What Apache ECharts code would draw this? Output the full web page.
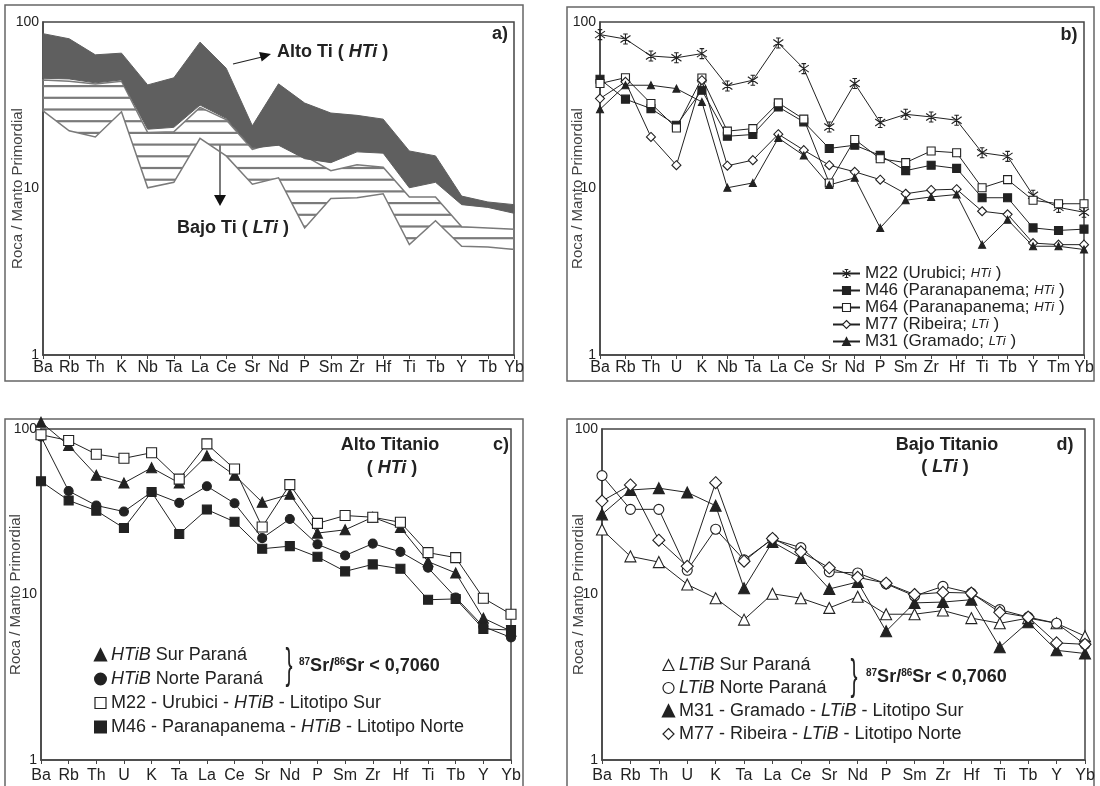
<!DOCTYPE html>
<html>
<head>
<meta charset="utf-8">
<title>Diagramas multielementales</title>
<script src="https://cdn.jsdelivr.net/npm/echarts@6/dist/echarts.min.js"></script>
<style>
  html, body { margin: 0; padding: 0; background: #fff; }
  #chart { width: 1100px; height: 786px; }
</style>
</head>
<body>
<div id="chart"></div>
<script>
const FONT = '"Liberation Sans", Arial, sans-serif';
const INK = '#222';
const AXIS = '#444';

// a) campos Alto Ti / Bajo Ti
const catsA = ['Ba', 'Rb', 'Th', 'K', 'Nb', 'Ta', 'La', 'Ce', 'Sr', 'Nd', 'P', 'Sm', 'Zr', 'Hf', 'Ti', 'Tb', 'Y', 'Tb', 'Yb'];
const htiTop = [85.1, 79.3, 63.5, 65.0, 41.9, 46.2, 75.7, 52.8, 23.8, 42.5, 32.6, 28.4, 27.5, 26.1, 16.8, 15.7, 9.0, 8.3, 8.0];
const htiBottom = [45.9, 45.5, 43.1, 44.9, 22.7, 23.3, 31.7, 26.4, 17.5, 18.2, 15.1, 14.3, 16.6, 16.3, 10.1, 10.9, 8.0, 7.7, 7.1];
const ltiTop = [44.9, 44.1, 42.5, 44.1, 21.7, 21.9, 30.7, 25.9, 17.2, 19.1, 15.7, 12.8, 13.9, 13.4, 8.9, 8.9, 5.9, 5.8, 5.7];
const ltiBottom = [29.3, 22.2, 20.4, 28.9, 10.1, 10.9, 20.0, 15.7, 10.6, 11.6, 5.8, 8.7, 8.8, 9.3, 4.6, 6.4, 4.5, 4.45, 4.3];

// b) muestras individuales
const catsB = ['Ba', 'Rb', 'Th', 'U', 'K', 'Nb', 'Ta', 'La', 'Ce', 'Sr', 'Nd', 'P', 'Sm', 'Zr', 'Hf', 'Ti', 'Tb', 'Y', 'Tm', 'Yb'];
const m22b = [84, 79, 62.5, 61, 64.6, 41.3, 44.7, 74.8, 52.5, 23.4, 42.7, 24.9, 27.9, 26.9, 25.7, 16.4, 15.6, 9.1, 7.7, 7.2];
const m46b = [45.3, 34.4, 30.2, 24, 38.9, 20.6, 21.1, 30.9, 25.1, 17.4, 18.2, 15.8, 12.8, 13.8, 13.2, 8.8, 8.8, 5.8, 5.6, 5.7];
const m64b = [42.7, 46.3, 32.4, 23.1, 46.1, 22.1, 22.9, 32.7, 26.1, 10.8, 19.7, 15.1, 14.3, 16.8, 16.4, 10.1, 11.3, 8.5, 8.1, 8.1];
const m77b = [34.7, 43.7, 20.4, 13.8, 44.7, 13.7, 14.8, 21.2, 17, 13.8, 12.6, 11.3, 9.3, 9.8, 9.9, 7.3, 7, 4.7, 4.6, 4.6];
const m31b = [29.9, 41.7, 41.7, 39.8, 33.1, 10.1, 10.8, 20.1, 15.8, 10.5, 11.6, 5.8, 8.5, 8.9, 9.2, 4.6, 6.5, 4.5, 4.5, 4.3];

// c) y d) promedios y litotipos
const catsCD = ['Ba', 'Rb', 'Th', 'U', 'K', 'Ta', 'La', 'Ce', 'Sr', 'Nd', 'P', 'Sm', 'Zr', 'Hf', 'Ti', 'Tb', 'Y', 'Yb'];
const htiSur = [110, 79.5, 52.6, 47.2, 58.3, 47.2, 69, 52.6, 36.1, 40.3, 23.5, 24.6, 29.3, 25.4, 15.8, 13.5, 7.2, 6.0];
const htiNorte = [90, 42.2, 34.5, 31.7, 41.6, 35.8, 45.1, 35.6, 21.9, 28.6, 20.1, 17.2, 20.3, 18.1, 14.5, 9.6, 6.4, 5.5];
const m22c = [92.3, 85.2, 70.4, 66.5, 71.9, 49.8, 81.3, 57.3, 25.6, 46.1, 26.9, 30, 29.3, 27.3, 17.9, 16.7, 9.5, 7.6];
const m46c = [48.3, 37, 32.1, 25.2, 41.6, 23.2, 32.6, 27.5, 18.9, 19.6, 16.9, 13.8, 15.2, 14.3, 9.3, 9.4, 6.2, 6.1];

const ltiSur = [24.7, 17, 15.7, 11.5, 9.5, 7.05, 10.1, 9.5, 8.3, 9.7, 7.6, 7.6, 8.0, 7.2, 6.7, 7.2, 6.7, 5.6];
const ltiNorte = [52.3, 32.7, 32.7, 14, 24.8, 16.2, 21.6, 19.2, 13.7, 13.5, 11.6, 9.8, 11.2, 10.2, 8.1, 7.3, 6.7, 5.0];
const m31d = [30.5, 42.8, 43.9, 41.4, 34.4, 10.9, 20.8, 16.6, 10.8, 11.9, 6.0, 8.9, 9.0, 9.3, 4.8, 6.8, 4.6, 4.4];
const m77d = [36.7, 45.9, 21.3, 14.8, 47.4, 15.9, 21.8, 18.1, 14.5, 12.7, 11.7, 10, 10.3, 10.2, 7.8, 7.3, 5.1, 5.0];

// trama horizontal para el campo LTi
const hatch = document.createElement('canvas');
hatch.width = 8;
hatch.height = 117;
const hctx = hatch.getContext('2d');
hctx.fillStyle = '#7a7a7a';
for (let k = 0; k < 10; k++) {
  hctx.fillRect(0, 3.1 + k * 11.7, 8, 2.2);
}

const STAR = 'path://M5,0L5,10M0.6,1.5L9.4,8.5M0.6,8.5L9.4,1.5M3,0L7,0M3,10L7,10';

function italics(name) {
  return name.replace(/(HTiB|LTiB|HTi|LTi)/g, '{i|$1}');
}

function xAxis(gridIndex, cats, margin) {
  return {
    type: 'category',
    gridIndex: gridIndex,
    data: cats,
    boundaryGap: false,
    axisLine: { lineStyle: { color: AXIS, width: 1.5 } },
    axisTick: { show: true, length: 4, lineStyle: { color: AXIS } },
    axisLabel: { interval: 0, color: INK, fontSize: 16, fontFamily: FONT, margin: margin },
    splitLine: { show: false },
  };
}

function yAxis(gridIndex, nameGap) {
  return {
    type: 'log',
    logBase: 10,
    min: 1,
    max: 100,
    gridIndex: gridIndex,
    name: 'Roca / Manto Primordial',
    nameLocation: 'middle',
    nameRotate: 90,
    nameGap: nameGap,
    nameMoveOverlap: false,
    nameTextStyle: { color: '#444', fontSize: 15, fontFamily: FONT },
    axisLine: { show: true, lineStyle: { color: AXIS, width: 1.5 } },
    axisTick: { show: false },
    axisLabel: { color: INK, fontSize: 14, fontFamily: FONT, margin: 4 },
    splitLine: { show: false },
  };
}

function grid(left, top, width, height) {
  return {
    left: left, top: top, width: width, height: height,
    show: true, borderColor: AXIS, borderWidth: 1.5,
    outerBoundsMode: 'none',
  };
}

// polígono entre dos curvas, con las escalas del eje
function band(name, lo, hi, style) {
  return {
    type: 'custom',
    name: name,
    xAxisIndex: 0,
    yAxisIndex: 0,
    silent: true,
    data: hi.map((v, i) => [i, lo[i], v]),
    encode: { x: 0, y: [1, 2] },
    renderItem: function (params, api) {
      if (params.dataIndex !== 0) return null;
      const pts = [];
      for (let i = 0; i < hi.length; i++) pts.push(api.coord([i, hi[i]]));
      for (let i = lo.length - 1; i >= 0; i--) pts.push(api.coord([i, lo[i]]));
      return { type: 'polygon', shape: { points: pts }, style: style };
    },
  };
}

function line(name, idx, data, symbol, size, filled) {
  return {
    name: name,
    type: 'line',
    xAxisIndex: idx,
    yAxisIndex: idx,
    data: data,
    symbol: symbol,
    symbolSize: size,
    clip: false,
    lineStyle: { color: INK, width: 1 },
    itemStyle: {
      color: filled ? INK : '#fff',
      borderColor: INK,
      borderWidth: 1.1,
    },
  };
}

function legendText(size, italicSize, lineHeight) {
  return {
    color: INK,
    fontSize: size,
    fontFamily: FONT,
    lineHeight: lineHeight,
    rich: {
      i: { fontStyle: 'italic', fontSize: italicSize, fontFamily: FONT, color: INK, lineHeight: lineHeight },
    },
  };
}

const chart = echarts.init(document.getElementById('chart'));

const option = {
  animation: false,
  backgroundColor: '#fff',
  grid: [
    grid(43, 22, 471, 333),
    grid(600, 22, 484, 333),
    grid(41, 429, 470, 331),
    grid(602, 429, 483, 331),
  ],
  xAxis: [xAxis(0, catsA, 5), xAxis(1, catsB, 5), xAxis(2, catsCD, 8), xAxis(3, catsCD, 8)],
  yAxis: [yAxis(0, 18), yAxis(1, 15), yAxis(2, 18), yAxis(3, 16)],
  legend: [
    {
      orient: 'vertical', left: 832, top: 265, padding: 0,
      itemWidth: 27, itemHeight: 10, itemGap: 0,
      selectedMode: false,
      itemStyle: { borderWidth: 1.1 },
      textStyle: legendText(17, 13, 17),
      formatter: italics,
      data: ['M22 (Urubici; HTi )', 'M46 (Paranapanema; HTi )', 'M64 (Paranapanema; HTi )', 'M77 (Ribeira; LTi )', 'M31 (Gramado; LTi )'],
    },
    {
      orient: 'vertical', left: 94, top: 645, padding: 0,
      itemWidth: 11, itemHeight: 11, itemGap: 4,
      selectedMode: false,
      textStyle: legendText(18, 18, 20),
      formatter: italics,
      data: [
        { name: 'HTiB Sur Paraná', icon: 'triangle', itemStyle: { color: INK, borderColor: INK } },
        { name: 'HTiB Norte Paraná', icon: 'circle', itemStyle: { color: INK, borderColor: INK } },
        { name: 'M22 - Urubici - HTiB - Litotipo Sur', icon: 'rect', itemStyle: { color: '#fff', borderColor: INK, borderWidth: 1.2 } },
        { name: 'M46 - Paranapanema - HTiB - Litotipo Norte', icon: 'rect', itemStyle: { color: INK, borderColor: INK } },
      ],
    },
    {
      orient: 'vertical', left: 662, top: 655, padding: 0,
      itemWidth: 11, itemHeight: 11, itemGap: 3,
      selectedMode: false,
      textStyle: legendText(18, 18, 20),
      formatter: italics,
      data: [
        { name: 'LTiB Sur Paraná', icon: 'triangle', itemStyle: { color: '#fff', borderColor: INK, borderWidth: 1.2 } },
        { name: 'LTiB Norte Paraná', icon: 'circle', itemStyle: { color: '#fff', borderColor: INK, borderWidth: 1.2 } },
        { name: 'M31 - Gramado - LTiB - Litotipo Sur', icon: 'triangle', itemStyle: { color: INK, borderColor: INK } },
        { name: 'M77 - Ribeira - LTiB - Litotipo Norte', icon: 'diamond', itemStyle: { color: '#fff', borderColor: INK, borderWidth: 1.2 } },
      ],
    },
  ],
  series: [
    // a)
    band('Bajo Ti', ltiBottom, ltiTop, { fill: { image: hatch, repeat: 'repeat' }, stroke: '#7a7a7a', lineWidth: 1.5 }),
    band('Alto Ti', htiBottom, htiTop, { fill: '#5f5f5f', stroke: '#5f5f5f', lineWidth: 1 }),
    // b)
    line('M22 (Urubici; HTi )', 1, m22b, STAR, 10, false),
    line('M46 (Paranapanema; HTi )', 1, m46b, 'rect', 8, true),
    line('M64 (Paranapanema; HTi )', 1, m64b, 'rect', 8, false),
    line('M77 (Ribeira; LTi )', 1, m77b, 'diamond', 9, false),
    line('M31 (Gramado; LTi )', 1, m31b, 'triangle', 7, true),
    // c)
    line('HTiB Sur Paraná', 2, htiSur, 'triangle', 10, true),
    line('HTiB Norte Paraná', 2, htiNorte, 'circle', 9, true),
    line('M22 - Urubici - HTiB - Litotipo Sur', 2, m22c, 'rect', 10, false),
    line('M46 - Paranapanema - HTiB - Litotipo Norte', 2, m46c, 'rect', 9, true),
    // d)
    line('LTiB Sur Paraná', 3, ltiSur, 'triangle', 11, false),
    line('LTiB Norte Paraná', 3, ltiNorte, 'circle', 10, false),
    line('M31 - Gramado - LTiB - Litotipo Sur', 3, m31d, 'triangle', 11, true),
    line('M77 - Ribeira - LTiB - Litotipo Norte', 3, m77d, 'diamond', 12, false),
  ],
  graphic: [
    // marcos exteriores
    { type: 'rect', shape: { x: 5, y: 5, width: 518, height: 376 }, style: { fill: 'none', stroke: '#666', lineWidth: 1.5 } },
    { type: 'rect', shape: { x: 567, y: 7, width: 527, height: 374 }, style: { fill: 'none', stroke: '#666', lineWidth: 1.5 } },
    { type: 'rect', shape: { x: 5, y: 419, width: 518, height: 380 }, style: { fill: 'none', stroke: '#666', lineWidth: 1.5 } },
    { type: 'rect', shape: { x: 567, y: 419, width: 527, height: 380 }, style: { fill: 'none', stroke: '#666', lineWidth: 1.5 } },

    // a) rótulos y flechas
    {
      type: 'text', x: 277, y: 52,
      style: {
        text: 'Alto Ti ( {i|HTi} )', fill: INK, fontSize: 18, fontWeight: 'bold', fontFamily: FONT, verticalAlign: 'middle',
        rich: { i: { fontStyle: 'italic', fontWeight: 'bold', fontSize: 18, fontFamily: FONT, fill: INK } },
      },
    },
    { type: 'line', shape: { x1: 233, y1: 64, x2: 262, y2: 57 }, style: { stroke: INK, lineWidth: 1.2 } },
    { type: 'polygon', shape: { points: [[271, 54], [261.7, 61.6], [259.1, 52]] }, style: { fill: '#111' } },
    {
      type: 'text', x: 177, y: 228,
      style: {
        text: 'Bajo Ti ( {i|LTi} )', fill: INK, fontSize: 18, fontWeight: 'bold', fontFamily: FONT, verticalAlign: 'middle',
        rich: { i: { fontStyle: 'italic', fontWeight: 'bold', fontSize: 18, fontFamily: FONT, fill: INK } },
      },
    },
    { type: 'line', shape: { x1: 220, y1: 145, x2: 220, y2: 196 }, style: { stroke: INK, lineWidth: 1.2 } },
    { type: 'polygon', shape: { points: [[214, 195], [226, 195], [220, 206]] }, style: { fill: '#111' } },
    { type: 'text', x: 500, y: 34, style: { text: 'a)', fill: INK, fontSize: 18, fontWeight: 'bold', fontFamily: FONT, align: 'center', verticalAlign: 'middle' } },

    // b)
    { type: 'text', x: 1069, y: 35, style: { text: 'b)', fill: INK, fontSize: 18, fontWeight: 'bold', fontFamily: FONT, align: 'center', verticalAlign: 'middle' } },

    // c)
    { type: 'text', x: 390, y: 445, style: { text: 'Alto Titanio', fill: INK, fontSize: 18, fontWeight: 'bold', fontFamily: FONT, align: 'center', verticalAlign: 'middle' } },
    {
      type: 'text', x: 392, y: 468,
      style: {
        text: '( {i|HTi} )', fill: INK, fontSize: 18, fontWeight: 'bold', fontFamily: FONT, align: 'center', verticalAlign: 'middle',
        rich: { i: { fontStyle: 'italic', fontWeight: 'bold', fontSize: 18, fontFamily: FONT, fill: INK } },
      },
    },
    { type: 'text', x: 501, y: 445, style: { text: 'c)', fill: INK, fontSize: 18, fontWeight: 'bold', fontFamily: FONT, align: 'center', verticalAlign: 'middle' } },
    { type: 'text', x: 289, y: 666, scaleX: 0.5, style: { text: '}', fill: INK, fontSize: 42, fontFamily: FONT, align: 'center', verticalAlign: 'middle' } },
    {
      type: 'text', x: 299, y: 666,
      style: {
        text: '{s|87}Sr/{s|86}Sr < 0,7060', fill: INK, fontSize: 18, fontWeight: 'bold', fontFamily: FONT, verticalAlign: 'middle',
        rich: { s: { fontSize: 10, fontWeight: 'bold', fontFamily: FONT, fill: INK, verticalAlign: 'top' } },
      },
    },

    // d)
    { type: 'text', x: 947, y: 445, style: { text: 'Bajo Titanio', fill: INK, fontSize: 18, fontWeight: 'bold', fontFamily: FONT, align: 'center', verticalAlign: 'middle' } },
    {
      type: 'text', x: 945, y: 467,
      style: {
        text: '( {i|LTi} )', fill: INK, fontSize: 18, fontWeight: 'bold', fontFamily: FONT, align: 'center', verticalAlign: 'middle',
        rich: { i: { fontStyle: 'italic', fontWeight: 'bold', fontSize: 18, fontFamily: FONT, fill: INK } },
      },
    },
    { type: 'text', x: 1065, y: 445, style: { text: 'd)', fill: INK, fontSize: 18, fontWeight: 'bold', fontFamily: FONT, align: 'center', verticalAlign: 'middle' } },
    { type: 'text', x: 854, y: 677, scaleX: 0.5, style: { text: '}', fill: INK, fontSize: 42, fontFamily: FONT, align: 'center', verticalAlign: 'middle' } },
    {
      type: 'text', x: 866, y: 677,
      style: {
        text: '{s|87}Sr/{s|86}Sr < 0,7060', fill: INK, fontSize: 18, fontWeight: 'bold', fontFamily: FONT, verticalAlign: 'middle',
        rich: { s: { fontSize: 10, fontWeight: 'bold', fontFamily: FONT, fill: INK, verticalAlign: 'top' } },
      },
    },
  ],
};

chart.setOption(option);
</script>
</body>
</html>
